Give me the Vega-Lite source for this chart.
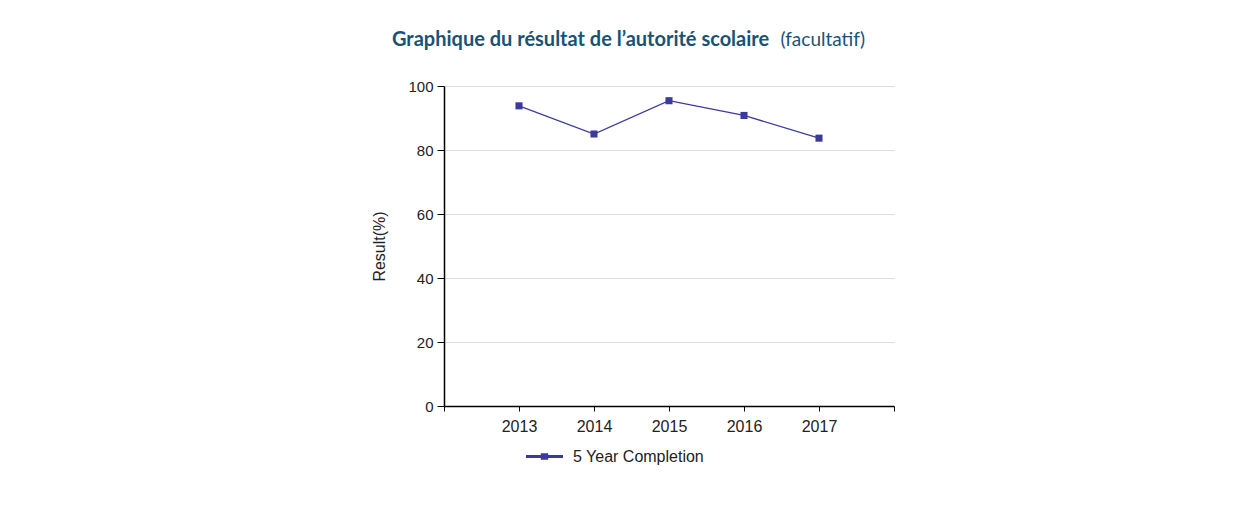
{
  "$schema": "https://vega.github.io/schema/vega-lite/v6.json",
  "autosize": "none",
  "width": 450,
  "height": 320,
  "padding": {"left": 444, "top": 86, "right": 349, "bottom": 112},
  "background": "white",
  "config": {
    "view": {"stroke": null},
    "font": "Liberation Sans"
  },
  "title": {
    "text": "Graphique du résultat de l’autorité scolaire",
    "font": "Lato",
    "fontSize": 20,
    "fontWeight": "bold",
    "color": "#1a5276",
    "anchor": "start",
    "frame": "group",
    "dx": -52,
    "offset": -20
  },
  "data": {
    "values": [
      {"year": 2013, "result": 93.8, "series": "5 Year Completion"},
      {"year": 2014, "result": 85.0, "series": "5 Year Completion"},
      {"year": 2015, "result": 95.4, "series": "5 Year Completion"},
      {"year": 2016, "result": 90.8, "series": "5 Year Completion"},
      {"year": 2017, "result": 83.7, "series": "5 Year Completion"}
    ]
  },
  "encoding": {
    "y": {
      "field": "result",
      "type": "quantitative",
      "scale": {"domain": [0, 100], "nice": false},
      "axis": {
        "title": "Result(%)",
        "values": [0, 20, 40, 60, 80, 100],
        "grid": true,
        "gridColor": "#dddddd",
        "gridWidth": 1.2,
        "domainColor": "#000000",
        "domainWidth": 1.5,
        "tickColor": "#000000",
        "tickSize": 7,
        "labelFontSize": 15,
        "labelColor": "#222222",
        "labelPadding": 4,
        "titleFontSize": 16,
        "titleFontWeight": "normal",
        "titleColor": "#222222",
        "titlePadding": 20
      }
    },
    "color": {
      "field": "series",
      "type": "nominal",
      "scale": {"range": ["#3a3a9e"]},
      "legend": {
        "title": null,
        "orient": "none",
        "legendX": 80,
        "legendY": 350,
        "symbolType": "M-1,0L1,0M-0.12,-0.1L0.12,-0.1L0.12,0.1L-0.12,0.1Z",
        "symbolSize": 1370,
        "symbolStrokeWidth": 3,
        "symbolStrokeColor": "#3a3a9e",
        "labelFontSize": 16,
        "labelColor": "#222222",
        "labelOffset": 8
      }
    }
  },
  "layer": [
    {
      "mark": {"type": "line", "strokeWidth": 1.2, "color": "#5555b5"},
      "encoding": {
        "x": {
          "field": "year",
          "type": "quantitative",
          "scale": {"domain": [2012, 2018], "nice": false, "zero": false},
          "axis": {
            "title": null,
            "orient": "bottom",
            "values": [2012, 2013, 2014, 2015, 2016, 2017, 2018],
            "labelExpr": "datum.value == 2012 || datum.value == 2018 ? '' : datum.value",
            "grid": false,
            "domainColor": "#000000",
            "domainWidth": 1.5,
            "tickColor": "#000000",
            "tickSize": 5,
            "labelFontSize": 16,
            "labelColor": "#222222",
            "labelPadding": 7,
            "labelFlush": false
          }
        }
      }
    },
    {
      "mark": {"type": "square", "size": 50, "filled": true, "opacity": 1, "color": "#2e2e96"},
      "encoding": {
        "x": {
          "field": "year",
          "type": "quantitative",
          "axis": {
            "orient": "top",
            "title": "(facultatif)",
            "titleX": 336,
            "titleY": -41,
            "titleAlign": "left",
            "titleBaseline": "alphabetic",
            "titleFont": "Lato",
            "titleFontSize": 19,
            "titleFontWeight": "normal",
            "titleColor": "#1a5276",
            "domain": false,
            "ticks": false,
            "labels": false,
            "grid": false
          }
        }
      }
    }
  ],
  "resolve": {"axis": {"x": "independent"}}
}
